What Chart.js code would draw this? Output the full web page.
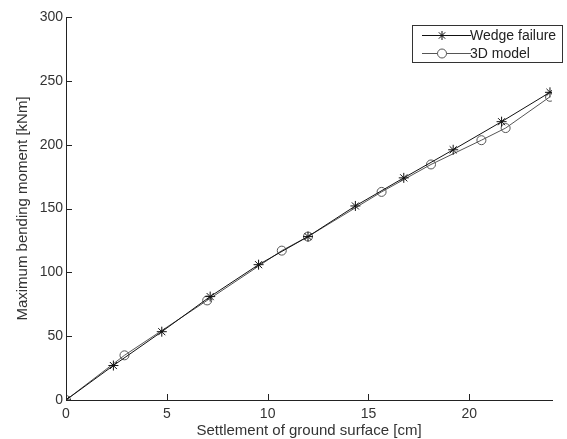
<!DOCTYPE html>
<html>
<head>
<meta charset="utf-8">
<script src="https://cdn.jsdelivr.net/npm/chart.js@4"></script>
<style>
  html, body { margin: 0; padding: 0; background: #fff; }
  #wrap { width: 567px; height: 439px; position: relative; }
</style>
</head>
<body>
<div id="wrap"><canvas id="chart"></canvas></div>
<script>
// values
const wedgeX = [0, 2.35, 4.75, 7.15, 9.55, 12.0, 14.35, 16.75, 19.2, 21.6, 24.0];
const wedgeY = [0, 27, 53.5, 81, 106, 128, 152, 174, 196, 218, 241];
const modelX = [0, 2.9, 7.0, 10.7, 12.0, 15.65, 18.1, 20.6, 21.8, 24.0];
const modelY = [0, 35, 78, 117, 128, 163, 184.5, 203.5, 213, 237.5];

const xTicks = [0, 5, 10, 15, 20];
const yTicks = [0, 50, 100, 150, 200, 250, 300];

const FONT = "'Liberation Sans', Arial, sans-serif";
const WEDGE = '#111';
const MODEL = '#555';

// ticks drawn pointing into the plot, like the original
const innerTicks = {
  id: 'innerTicks',
  afterDraw(chart) {
    const { ctx, chartArea: a, scales: { x, y } } = chart;
    ctx.save();
    ctx.strokeStyle = '#222';
    ctx.lineWidth = 1;
    ctx.beginPath();
    xTicks.forEach(v => {
      const px = Math.round(x.getPixelForValue(v)) + 0.5;
      ctx.moveTo(px, a.bottom); ctx.lineTo(px, a.bottom - 6);
    });
    yTicks.forEach(v => {
      const py = Math.round(y.getPixelForValue(v)) + 0.5;
      ctx.moveTo(a.left, py); ctx.lineTo(a.left + 6, py);
    });
    ctx.stroke();
    ctx.restore();
  }
};

// boxed legend in the top right corner
const boxLegend = {
  id: 'boxLegend',
  afterDraw(chart) {
    const ctx = chart.ctx;
    const bx = 412.5, by = 25.5, bw = 150, bh = 37;
    ctx.save();
    ctx.fillStyle = '#fff';
    ctx.fillRect(bx, by, bw, bh);
    ctx.strokeStyle = '#333';
    ctx.lineWidth = 1;
    ctx.strokeRect(bx, by, bw, bh);

    const rows = [
      { label: 'Wedge failure', color: WEDGE, style: 'star', y: 35 },
      { label: '3D model', color: MODEL, style: 'circle', y: 53 },
    ];
    rows.forEach(r => {
      ctx.strokeStyle = r.color;
      ctx.lineWidth = 1;
      ctx.beginPath();
      ctx.moveTo(422, r.y + 0.5); ctx.lineTo(471, r.y + 0.5);
      ctx.stroke();
      ctx.fillStyle = '#fff';
      Chart.helpers.drawPoint(ctx, { pointStyle: r.style, radius: 4.5, borderWidth: 1 }, 442, r.y + 0.5);
      ctx.fillStyle = '#222';
      ctx.font = `14px ${FONT}`;
      ctx.textBaseline = 'middle';
      ctx.fillText(r.label, 470, r.y + 1);
    });
    ctx.restore();
  }
};

new Chart(document.getElementById('chart'), {
  type: 'line',
  data: {
    datasets: [
      {
        label: 'Wedge failure',
        data: wedgeX.map((v, i) => ({ x: v, y: wedgeY[i] })),
        borderColor: WEDGE,
        backgroundColor: 'transparent',
        borderWidth: 1,
        pointStyle: 'star',
        pointRadius: 5,
        pointBorderColor: WEDGE,
        pointBorderWidth: 1,
      },
      {
        label: '3D model',
        data: modelX.map((v, i) => ({ x: v, y: modelY[i] })),
        borderColor: MODEL,
        backgroundColor: 'transparent',
        borderWidth: 1,
        pointStyle: 'circle',
        pointRadius: 4.5,
        pointBorderColor: MODEL,
        pointBackgroundColor: 'rgba(255,255,255,0)',
        pointBorderWidth: 1,
      },
    ],
  },
  options: {
    responsive: true,
    maintainAspectRatio: false,
    animation: false,
    layout: { padding: { top: 17, right: 15, left: 0, bottom: 0 } },
    plugins: { legend: { display: false }, tooltip: { enabled: false } },
    scales: {
      x: {
        type: 'linear',
        min: 0,
        max: 24.1,
        afterFit: s => { s.height = 39; },
        afterBuildTicks: s => { s.ticks = xTicks.map(v => ({ value: v })); },
        grid: { drawOnChartArea: false, drawTicks: false },
        border: { color: '#222', width: 1 },
        ticks: { color: '#333', padding: 6, font: { family: FONT, size: 14 } },
        title: {
          display: true,
          text: 'Settlement of ground surface [cm]',
          color: '#333',
          font: { family: FONT, size: 15 },
          padding: { top: 0, bottom: -1 },
        },
      },
      y: {
        type: 'linear',
        min: 0,
        max: 300,
        afterFit: s => { s.width = 66; },
        afterBuildTicks: s => { s.ticks = yTicks.map(v => ({ value: v })); },
        grid: { drawOnChartArea: false, drawTicks: false },
        border: { color: '#222', width: 1 },
        ticks: { color: '#333', padding: 3, font: { family: FONT, size: 14 } },
        title: {
          display: true,
          text: 'Maximum bending moment [kNm]',
          color: '#333',
          font: { family: FONT, size: 15 },
          padding: { top: 14, bottom: 0 },
        },
      },
    },
  },
  plugins: [innerTicks, boxLegend],
});
</script>
</body>
</html>
